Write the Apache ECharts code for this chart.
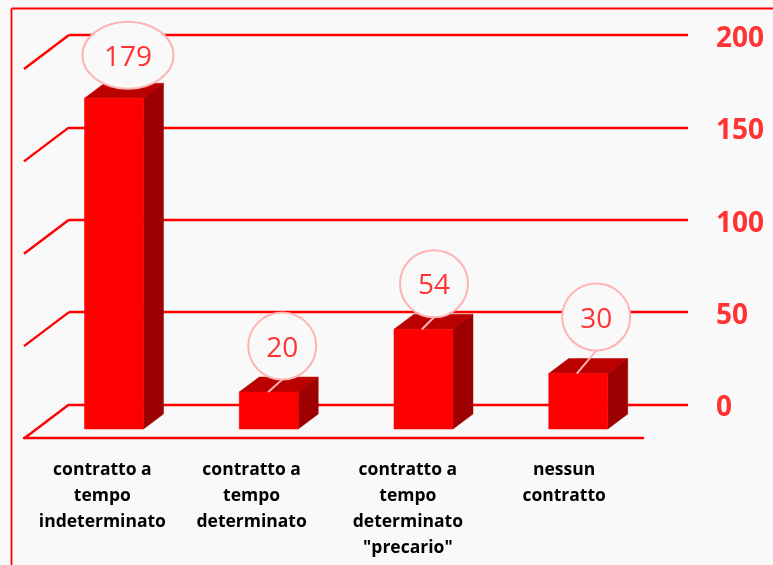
<!DOCTYPE html>
<html>
<head>
<meta charset="utf-8">
<style>html,body{margin:0;padding:0;background:#f9f9f9}#c{width:773px;height:565px}</style>
<script src="https://cdn.jsdelivr.net/npm/echarts@6/dist/echarts.min.js"></script>
</head>
<body>
<div id="c"></div>
<script>
const categories = ['contratto a\ntempo\nindeterminato', 'contratto a\ntempo\ndeterminato', 'contratto a\ntempo\ndeterminato\n"precario"', 'nessun\ncontratto'];
const values = [179, 20, 54, 30];
const yTicks = [0, 50, 100, 150, 200];
// label callout layout, separate from the data
const calloutDX = [14, 13.5, 10.5, 18];
const calloutDY = [-43, -46, -45.5, -56.5];
const calloutRX = [45.5, 34, 34, 34];
const leaderStart = [null, -0.5, -1.5, -1.5];
const labelPadRight = [-2, 9, 6, 3];

const RED = '#ff0000', TXT = '#ff3333', PINK = '#ffb3b3', BG = '#f9f9f9';
const FONT = '"Open Sans", sans-serif';
const front = {dx: -32.4, dy: 24.5, w: 59};
const depth = {dx: 20, dy: -15};
const side = {dx: -45, dy: 34};

function renderBar(params, api) {
  const top = api.coord([api.value(0), api.value(1)]);
  const base = api.coord([api.value(0), 0]);
  const l = top[0] + front.dx - front.w / 2, r = l + front.w;
  const t = top[1] + front.dy, b = base[1] + front.dy;
  const dx = depth.dx, dy = depth.dy;
  const mk = (pts, fill) => ({type: 'polygon', shape: {points: pts}, style: {fill: fill, stroke: fill, lineWidth: 0.5}});
  return {type: 'group', children: [
    mk([[l, t], [r, t], [r + dx, t + dy], [l + dx, t + dy]], '#bb0000'),
    mk([[r, t], [r + dx, t + dy], [r + dx, b + dy], [r, b]], '#9c0000'),
    mk([[l, t], [r, t], [r, b], [l, b]], RED)
  ]};
}
function renderCallout(params, api) {
  const i = params.dataIndex;
  const top = api.coord([api.value(0), api.value(1)]);
  const cx0 = top[0] + front.dx, t = top[1] + front.dy;
  const cx = cx0 + calloutDX[i], cy = t + calloutDY[i], ry = 33.5;
  const children = [];
  if (leaderStart[i] !== null) {
    children.push({type: 'line', shape: {x1: cx0 + leaderStart[i], y1: t, x2: cx, y2: cy + ry}, style: {stroke: PINK, lineWidth: 2}});
  }
  children.push(
    {type: 'ellipse', shape: {cx: cx, cy: cy, rx: calloutRX[i], ry: ry}, style: {fill: BG, stroke: PINK, lineWidth: 2}},
    {type: 'text', style: {x: cx, y: cy + 2.5, text: String(api.value(1)), fill: TXT, font: '28px ' + FONT, align: 'center', verticalAlign: 'middle'}}
  );
  return {type: 'group', children: children};
}
function renderSide(params, api) {
  const x = params.coordSys.x, y = api.coord([0, api.value(1)])[1];
  return {type: 'line', shape: {x1: x, y1: y, x2: x + side.dx, y2: y + side.dy}, style: {stroke: RED, lineWidth: 2.4}};
}

const chart = echarts.init(document.getElementById('c'), null, {renderer: 'canvas'});
chart.setOption({
  animation: false,
  backgroundColor: BG,
  grid: [
    {left: 69, right: 85, top: 35, height: 369.5},
    {left: 24, right: 130, top: 300, height: 138}
  ],
  xAxis: [
    {type: 'category', gridIndex: 0, data: categories, show: false},
    {type: 'category', gridIndex: 1, data: categories.map((c, i) => ({value: c, textStyle: {padding: [0, labelPadRight[i], 0, 0]}})),
      axisTick: {show: false},
      axisLine: {show: true, lineStyle: {color: RED, width: 2.4}},
      axisLabel: {interval: 0, margin: 19, color: '#000000', fontFamily: FONT, fontWeight: 'bold', fontSize: 17.5, lineHeight: 26}}
  ],
  yAxis: [
    {type: 'value', gridIndex: 0, position: 'right', min: 0, max: 200, interval: 50,
      axisLine: {show: false}, axisTick: {show: false},
      splitLine: {show: true, lineStyle: {color: RED, width: 2.4}},
      axisLabel: {margin: 28, fontFamily: FONT,
        formatter: v => '{t|' + v + '}',
        rich: {t: {color: TXT, fontFamily: FONT, fontWeight: 'bold', fontSize: 28, padding: [8, 0, 0, 0]}}}},
    {type: 'value', gridIndex: 1, show: false, min: 0, max: 1}
  ],
  series: [
    {type: 'custom', xAxisIndex: 0, yAxisIndex: 0, clip: false, z: 2, renderItem: renderSide, encode: {x: 0, y: 1}, data: yTicks.map(t => [0, t])},
    {type: 'custom', xAxisIndex: 0, yAxisIndex: 0, clip: false, z: 3, renderItem: renderBar, encode: {x: 0, y: 1}, data: values.map((v, i) => [i, v])},
    {type: 'custom', xAxisIndex: 0, yAxisIndex: 0, clip: false, z: 4, renderItem: renderCallout, encode: {x: 0, y: 1}, data: values.map((v, i) => [i, v])}
  ],
  graphic: [
    {type: 'line', silent: true, shape: {x1: 11.5, y1: 8.5, x2: 773, y2: 8.5}, style: {stroke: RED, lineWidth: 1.8}},
    {type: 'line', silent: true, shape: {x1: 11.5, y1: 8.5, x2: 11.5, y2: 565}, style: {stroke: RED, lineWidth: 1.8}}
  ]
});
</script>
</body>
</html>
